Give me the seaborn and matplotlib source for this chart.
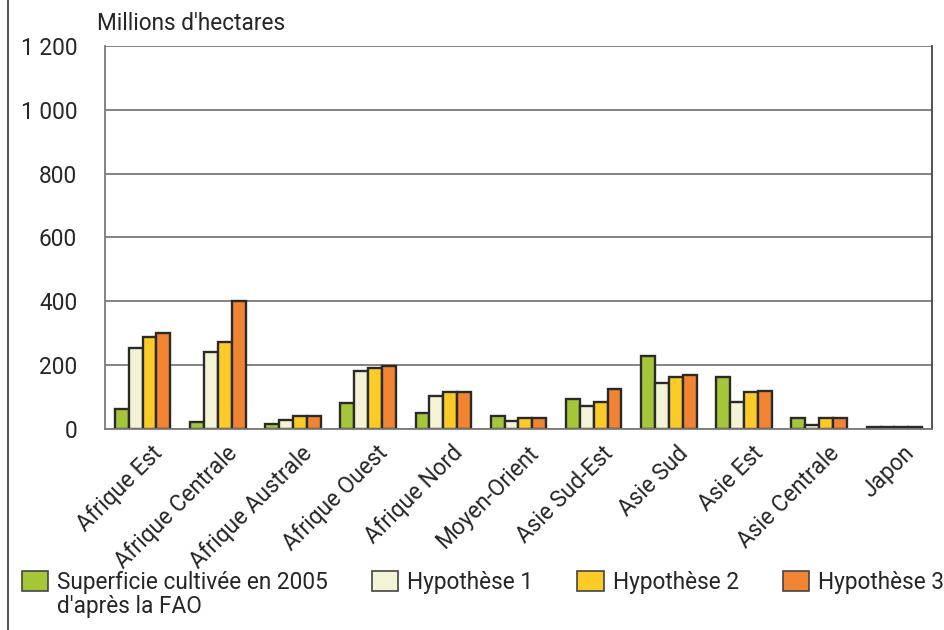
import matplotlib
matplotlib.use("Agg")
import matplotlib.pyplot as plt
from matplotlib.lines import Line2D
import matplotlib.transforms as mtransforms
import seaborn as sns
import pandas as pd
import numpy as np

regions = ["Afrique Est", "Afrique Centrale", "Afrique Australe", "Afrique Ouest",
           "Afrique Nord", "Moyen-Orient", "Asie Sud-Est", "Asie Sud", "Asie Est",
           "Asie Centrale", "Japon"]
series = ["Superficie cultivée en 2005", "Hypothèse 1", "Hypothèse 2", "Hypothèse 3"]
fao_2005 = [62, 22, 17, 83, 49, 41, 95, 230, 164, 35, 5]
hyp1 = [255, 242, 29, 181, 103, 24, 72, 145, 85, 11, 5]
hyp2 = [289, 272, 40, 192, 115, 34, 85, 163, 115, 35, 5]
hyp3 = [302, 400, 40, 198, 115, 34, 126, 170, 120, 35, 5]
yticks = [0, 200, 400, 600, 800, 1000, 1200]
ytick_labels = ["0", "200", "400", "600", "800", "1 000", "1 200"]

colors = ["#a6c63a", "#f4f3d6", "#fdcb27", "#f08433"]
fs = 16.3

df = pd.DataFrame({
    "region": regions * 4,
    "serie": np.repeat(series, len(regions)),
    "valeur": fao_2005 + hyp1 + hyp2 + hyp3,
})

sns.set_style("white")
plt.rcParams["font.family"] = ["Roboto", "DejaVu Sans"]

fig = plt.figure(figsize=(9.45, 6.3), dpi=100)
ax = fig.add_axes([105 / 945, 1 - 429 / 630, 827 / 945, 383 / 630])

sns.barplot(data=df, x="region", y="valeur", hue="serie", palette=colors,
            saturation=1, width=0.74, gap=0, edgecolor="#2a2a2a", linewidth=1.7,
            legend=False, ax=ax)

ax.set_ylim(0, 1200)
ax.set_xlim(-0.5, len(regions) - 0.5)
ax.set_yticks(yticks)
ax.set_yticklabels(ytick_labels, fontsize=fs)
ax.yaxis.grid(True, color="#7a7a7a", linewidth=1.3)
ax.set_axisbelow(True)
ax.tick_params(axis="y", length=11, width=1.2, color="#7a7a7a", pad=9)

# labels centred, ticks on group boundaries
ax.set_xticks(range(len(regions)))
ax.set_xticklabels(regions, rotation=45, ha="right", rotation_mode="anchor", fontsize=fs)
ax.tick_params(axis="x", which="major", length=0, pad=9)
shift = mtransforms.ScaledTranslation(8 / 100, 0, fig.dpi_scale_trans)
for lab in ax.get_xticklabels():
    lab.set_transform(lab.get_transform() + shift)
ax.set_xticks(np.arange(-0.5, len(regions), 1.0), minor=True)
ax.tick_params(axis="x", which="minor", length=10, width=1.2, color="#7a7a7a")
ax.set_xlabel("")
ax.set_ylabel("")

for side in ["left", "bottom"]:
    ax.spines[side].set_color("#7a7a7a")
    ax.spines[side].set_linewidth(1.3)
ax.spines["top"].set_visible(False)
ax.spines["right"].set_color("#444444")
ax.spines["right"].set_linewidth(1.3)
ax.spines["right"].set_bounds(0, 1200)

fig.text(97 / 945, 1 - 24 / 630, "Millions d'hectares", fontsize=fs, va="center", ha="left")

# outer frame line on the left
fig.add_artist(Line2D([8 / 945, 8 / 945], [0, 1], color="#333333", linewidth=1.2))

handles = [plt.Rectangle((0, 0), 1, 1, facecolor=c, edgecolor="#444444", linewidth=1.2)
           for c in colors]
fig.legend(handles, series, loc="center left", bbox_to_anchor=(22 / 945, 1 - 582 / 630),
           ncol=4, frameon=False, fontsize=fs, handlelength=1.15, handleheight=1.0,
           handletextpad=0.4, columnspacing=1.95, borderaxespad=0, borderpad=0)
fig.text(57 / 945, 1 - 607 / 630, "d'après la FAO", fontsize=fs, va="center", ha="left")

fig.savefig("out.png", dpi=100)
